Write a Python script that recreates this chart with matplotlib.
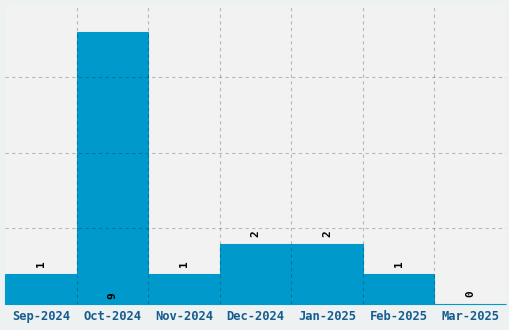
import numpy as np
import matplotlib.pyplot as plt
from matplotlib.transforms import ScaledTranslation

months = ["Sep-2024", "Oct-2024", "Nov-2024", "Dec-2024", "Jan-2025", "Feb-2025", "Mar-2025"]
counts = [1, 9, 1, 2, 2, 1, 0]

bar_color = "#0099cc"
tick_color = "#155d8f"

fig = plt.figure(figsize=(5.1, 3.3), dpi=100, facecolor="#eef1f2")
ax = fig.add_axes([5 / 510, 26 / 330, 501 / 510, 299 / 330])
ax.set_facecolor("#f2f2f2")

x = np.arange(len(months))
bars = ax.bar(x, counts, width=1.0, color=bar_color, edgecolor=bar_color,
              linewidth=0.8, zorder=2)
for b in bars:
    b.set_clip_on(False)

ymax = max(counts) * 1.1
ax.set_xlim(-0.5, len(months) - 0.5)
ax.set_ylim(0, ymax)

# value labels, rotated; the tallest one goes inside the bar at the bottom
for xi, v in zip(x, counts):
    y = v + 0.33
    if v == max(counts):
        y = 0.27
    ax.text(xi, y, str(v), rotation=90, ha="center", va="center",
            fontsize=8, fontweight="bold", family="DejaVu Sans Mono",
            color="black", zorder=4)

ax.set_xticks(x)
ax.set_xticklabels(months, family="DejaVu Sans Mono", fontweight="bold",
                   fontsize=8.7, color=tick_color)
shift = ScaledTranslation(-4 / 100, 0, fig.dpi_scale_trans)
for lab in ax.get_xticklabels():
    lab.set_transform(lab.get_transform() + shift)
ax.set_xticks(x[:-1] + 0.5, minor=True)
ax.set_yticks([2.5, 5, 7.5])
ax.tick_params(axis="both", which="both", length=0)
ax.tick_params(axis="x", pad=4)
ax.set_yticklabels([])

ax.grid(True, which="minor", axis="x", color="black", alpha=0.24,
        linestyle=(0, (3, 3)), linewidth=0.8, zorder=3)
ax.grid(True, which="major", axis="y", color="black", alpha=0.24,
        linestyle=(0, (3, 3)), linewidth=0.8, zorder=3)
ax.set_axisbelow(False)

for s in ax.spines.values():
    s.set_visible(False)

plt.savefig("out.png", dpi=100, facecolor=fig.get_facecolor())
